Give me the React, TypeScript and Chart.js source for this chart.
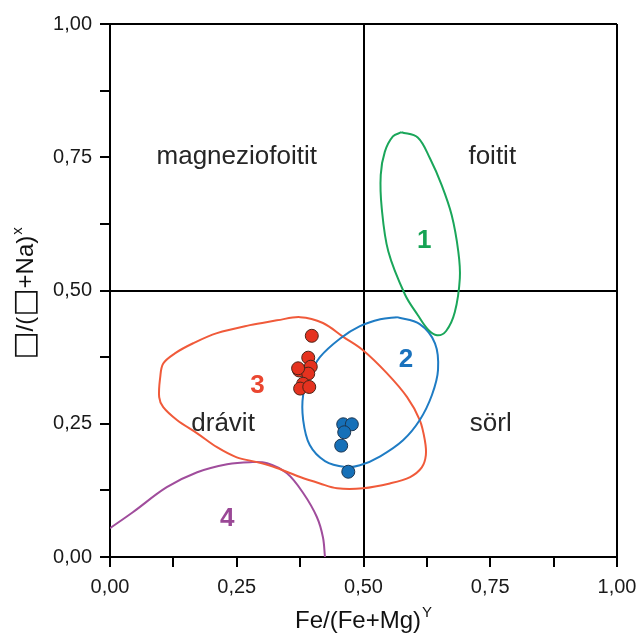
import React, { useEffect, useRef } from "react";
import { Chart, registerables } from "chart.js";

Chart.register(...registerables);

// ---- data ----
const tickValues = [0, 0.25, 0.5, 0.75, 1];

const sampleRedX = [0.398, 0.391, 0.396, 0.373, 0.391, 0.371, 0.381, 0.375, 0.393];
const sampleRedY = [0.415, 0.374, 0.357, 0.35, 0.344, 0.354, 0.325, 0.316, 0.319];

const sampleBlueX = [0.46, 0.477, 0.462, 0.456, 0.47];
const sampleBlueY = [0.249, 0.249, 0.234, 0.209, 0.16];

// field 1 (green)
const field1X = [0.575, 0.607, 0.631, 0.654, 0.674, 0.687, 0.69, 0.68, 0.663, 0.645, 0.627, 0.607, 0.582, 0.549, 0.536, 0.534, 0.542, 0.558, 0.575];
const field1Y = [0.797, 0.787, 0.748, 0.698, 0.641, 0.573, 0.523, 0.459, 0.424, 0.416, 0.427, 0.454, 0.492, 0.573, 0.654, 0.717, 0.76, 0.789, 0.797];

// field 2 (blue)
const field2X = [0.566, 0.611, 0.641, 0.647, 0.635, 0.611, 0.578, 0.533, 0.493, 0.464, 0.424, 0.394, 0.381, 0.381, 0.394, 0.414, 0.454, 0.493, 0.533, 0.566];
const field2Y = [0.45, 0.437, 0.401, 0.351, 0.304, 0.257, 0.219, 0.189, 0.172, 0.169, 0.18, 0.21, 0.257, 0.304, 0.341, 0.375, 0.41, 0.433, 0.446, 0.45];

// field 3 (red)
const field3X = [0.329, 0.375, 0.42, 0.46, 0.499, 0.546, 0.586, 0.611, 0.621, 0.623, 0.615, 0.592, 0.552, 0.499, 0.448, 0.414, 0.375, 0.329, 0.29, 0.25, 0.211, 0.172, 0.132, 0.105, 0.097, 0.099, 0.105, 0.128, 0.164, 0.211, 0.276, 0.329];
const field3Y = [0.444, 0.45, 0.439, 0.413, 0.388, 0.345, 0.3, 0.257, 0.219, 0.191, 0.168, 0.15, 0.138, 0.129, 0.129, 0.138, 0.15, 0.167, 0.178, 0.187, 0.206, 0.232, 0.257, 0.281, 0.3, 0.337, 0.363, 0.382, 0.401, 0.42, 0.435, 0.444];

// field 4 (purple)
const field4X = [0.0, 0.045, 0.112, 0.172, 0.231, 0.276, 0.31, 0.349, 0.381, 0.408, 0.42, 0.424];
const field4Y = [0.054, 0.084, 0.131, 0.159, 0.174, 0.178, 0.176, 0.157, 0.12, 0.075, 0.037, 0.0];

const regionNames = ["magneziofoitit", "foitit", "drávit", "sörl"];
const regionX = [0.25, 0.754, 0.223, 0.751];
const regionY = [0.75, 0.75, 0.25, 0.25];

const fieldNumbers = ["1", "2", "3", "4"];
const fieldNumX = [0.62, 0.584, 0.291, 0.231];
const fieldNumY = [0.594, 0.369, 0.322, 0.071];

const xTitleParts = ["Fe/(Fe+Mg)"];
const xTitleSup = "Y";
const yTitleParts = ["\u25A1", "/(", "\u25A1", "+Na)"];
const yTitleSup = "x";

// ---- styles ----
const FONT = "'Liberation Sans', Arial, Helvetica, sans-serif";
const fieldColors = ["#1aa65a", "#1f7cc4", "#f05a3a", "#a04d9c"];
const numberColors = ["#16a354", "#1a72bd", "#ea4630", "#9a4896"];

const zip = (xs: number[], ys: number[]) => xs.map((x, i) => ({ x, y: ys[i] }));

const isMajor = (v: number) => Math.abs(v * 4 - Math.round(v * 4)) < 1e-9;
const fmt = (v: number) => v.toFixed(2).replace(".", ",");

const partFont = (t: string) => (t === "\u25A1" ? `30px 'DejaVu Sans', sans-serif` : `24px ${FONT}`);

const labelsPlugin = {
  id: "labelsPlugin",
  afterDatasetsDraw(chart: any) {
    const { ctx, scales } = chart;
    const xs = scales.x;
    const ys = scales.y;
    ctx.save();
    ctx.textAlign = "center";
    ctx.textBaseline = "middle";
    ctx.fillStyle = "#262626";
    ctx.font = `26px ${FONT}`;
    regionNames.forEach((t, i) => {
      ctx.fillText(t, xs.getPixelForValue(regionX[i]), ys.getPixelForValue(regionY[i]));
    });
    ctx.font = `bold 26px ${FONT}`;
    fieldNumbers.forEach((t, i) => {
      ctx.fillStyle = numberColors[i];
      ctx.fillText(t, xs.getPixelForValue(fieldNumX[i]), ys.getPixelForValue(fieldNumY[i]));
    });
    ctx.restore();
  },
  afterDraw(chart: any) {
    const { ctx, chartArea } = chart;
    const drawTitle = (parts: string[], sup: string) => {
      const widths = parts.map((p) => {
        ctx.font = partFont(p);
        return ctx.measureText(p).width;
      });
      ctx.font = `15px ${FONT}`;
      const wSup = ctx.measureText(sup).width;
      const total = widths.reduce((a, b) => a + b, 0) + wSup + 1;
      let pos = -total / 2;
      parts.forEach((p, i) => {
        ctx.font = partFont(p);
        ctx.fillText(p, pos, p === "\u25A1" ? 1 : 0);
        pos += widths[i];
      });
      ctx.font = `15px ${FONT}`;
      ctx.fillText(sup, pos + 1, -11);
    };
    ctx.save();
    ctx.fillStyle = "#111";
    ctx.textAlign = "left";
    ctx.textBaseline = "alphabetic";
    // x title
    ctx.save();
    ctx.translate((chartArea.left + chartArea.right) / 2, 628);
    drawTitle(xTitleParts, xTitleSup);
    ctx.restore();
    // y title
    ctx.save();
    ctx.translate(33, (chartArea.top + chartArea.bottom) / 2 + 3);
    ctx.rotate(-Math.PI / 2);
    drawTitle(yTitleParts, yTitleSup);
    ctx.restore();
    ctx.restore();
  },
};

const gridColor = (c: any) =>
  c.tick && (Math.abs(c.tick.value - 0.5) < 1e-9 || Math.abs(c.tick.value - 1) < 1e-9) ? "#000" : "rgba(0,0,0,0)";

const axisCommon = (sizeFit: (s: any) => void) => ({
  type: "linear" as const,
  min: 0,
  max: 1,
  ticks: {
    stepSize: 0.125,
    autoSkip: false,
    maxRotation: 0,
    padding: 8,
    color: "#1a1a1a",
    font: { family: FONT, size: 20 },
    callback: (v: any) => (isMajor(Number(v)) && tickValues.some((t) => Math.abs(t - Number(v)) < 1e-9) ? fmt(Number(v)) : ""),
  },
  grid: {
    color: gridColor,
    lineWidth: 2,
    drawOnChartArea: true,
    drawTicks: true,
    tickLength: 10,
    tickColor: "#000",
    tickWidth: 2,
  },
  border: { display: true, color: "#000", width: 2 },
  afterFit: sizeFit,
});

export default function App() {
  const ref = useRef<HTMLCanvasElement | null>(null);

  useEffect(() => {
    if (!ref.current) return;
    const lineDs = (label: string, xs: number[], ys: number[], color: string) => ({
      label,
      data: zip(xs, ys),
      showLine: true,
      borderColor: color,
      borderWidth: 2,
      pointRadius: 0,
      pointHoverRadius: 0,
      tension: 0.35,
      fill: false,
    });
    const chart = new Chart(ref.current, {
      type: "scatter",
      data: {
        datasets: [
          {
            label: "red samples",
            data: zip(sampleRedX, sampleRedY),
            pointRadius: 6.5,
            backgroundColor: "#e5321f",
            borderColor: "#4a2418",
            borderWidth: 1,
          },
          {
            label: "blue samples",
            data: zip(sampleBlueX, sampleBlueY),
            pointRadius: 6.5,
            backgroundColor: "#1670b8",
            borderColor: "#1c3550",
            borderWidth: 1,
          },
          lineDs("1", field1X, field1Y, fieldColors[0]),
          lineDs("2", field2X, field2Y, fieldColors[1]),
          lineDs("3", field3X, field3Y, fieldColors[2]),
          lineDs("4", field4X, field4Y, fieldColors[3]),
        ] as any,
      },
      options: {
        animation: false,
        responsive: false,
        devicePixelRatio: 1,
        layout: { padding: { left: 0, top: 24, right: 22, bottom: 0 } },
        plugins: { legend: { display: false }, tooltip: { enabled: false } },
        scales: {
          x: axisCommon((s: any) => {
            s.height = 79;
            s.paddingLeft = 0;
            s.paddingRight = 0;
          }),
          y: axisCommon((s: any) => {
            s.width = 110;
            s.paddingTop = 0;
            s.paddingBottom = 0;
          }),
        } as any,
      },
      plugins: [labelsPlugin],
    });
    return () => chart.destroy();
  }, []);

  return (
    <div style={{ position: "absolute", left: 0, top: 0, width: 639, height: 636, background: "#fff" }}>
      <canvas ref={ref} width={639} height={636} style={{ display: "block" }} />
    </div>
  );
}
